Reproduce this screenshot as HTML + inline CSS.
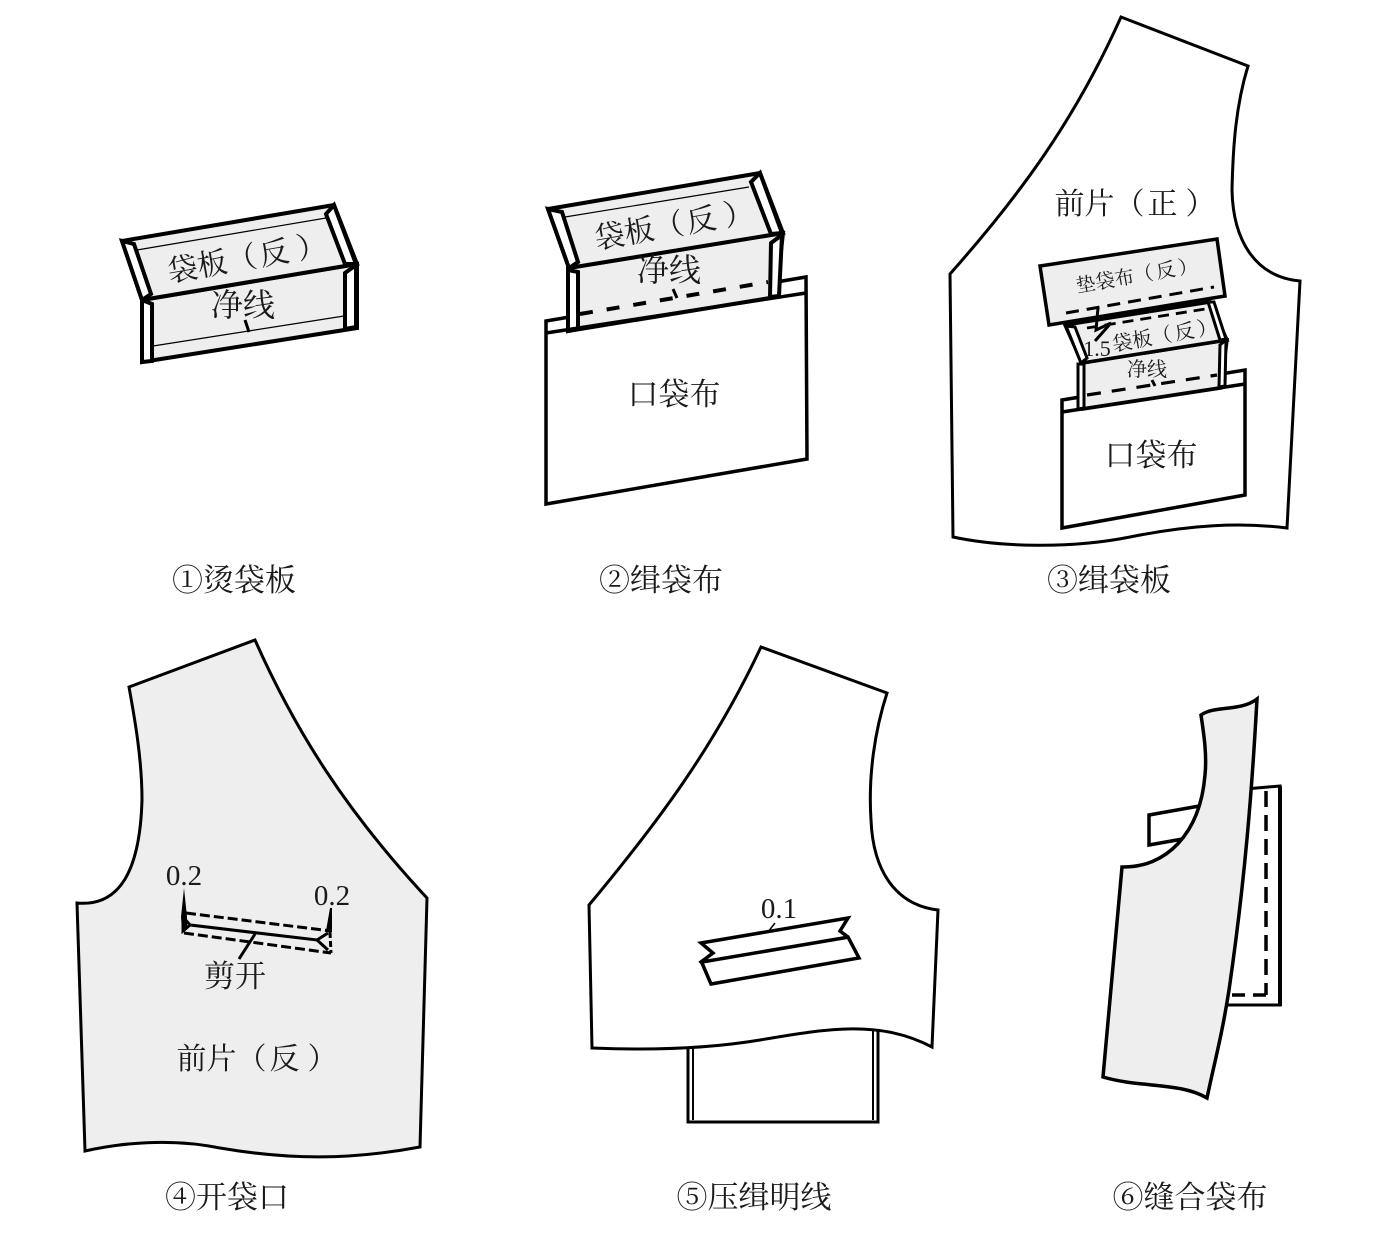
<!DOCTYPE html>
<html lang="zh">
<head>
<meta charset="utf-8">
<style>
html,body{margin:0;padding:0;background:#fff;width:1386px;height:1238px;overflow:hidden}
svg{display:block}
text{font-family:"Liberation Serif","Noto Serif CJK SC",serif;fill:#1a1a1a;text-anchor:middle}
polygon,path,line{stroke-linejoin:miter}
.g{fill:#eee;stroke:#000}
.w{fill:#fff;stroke:#000}
.n{fill:none;stroke:#000}
</style>
</head>
<body>
<svg width="1386" height="1238" viewBox="0 0 1386 1238" xmlns="http://www.w3.org/2000/svg">

<!-- Panel 1 -->
<polygon class="g" stroke-width="4" points="142,300 357,264 357,328 142,362"/>
<polygon class="g" stroke-width="4" points="122,241 334,205 357,264 142,300"/>
<polygon class="w" stroke-width="4" points="122,241 134,244 151,294 142,300"/>
<polygon class="w" stroke-width="4" points="334,205 326,214 345,264 356,264"/>
<polygon class="w" stroke-width="4" points="142,300 152,304 152,361 142,362"/>
<polygon class="w" stroke-width="4" points="345,273 356,265 356,327 345,329"/>
<line class="n" stroke-width="1.2" x1="137" y1="250" x2="326" y2="218"/>
<line class="n" stroke-width="1.2" x1="153" y1="346" x2="344" y2="316"/>
<line x1="245" y1="320" x2="249" y2="332" stroke="#000" stroke-width="3"/>
<text transform="translate(249,268) rotate(-10)" font-size="30">袋板（<tspan dx="3">反</tspan><tspan dx="8">）</tspan></text>
<text transform="translate(243,316)" font-size="32">净线</text>

<!-- Panel 2 -->
<polygon class="w" stroke-width="3.5" points="546,321 806,277 807,459 546,504"/>
<polygon class="g" stroke-width="4" points="568,268 783,233 776,297 568,331"/>
<polygon class="g" stroke-width="4" points="548,209 760,173 783,233 569,268"/>
<polygon class="w" stroke-width="4" points="548,209 562,212 578,262 569,268"/>
<polygon class="w" stroke-width="4" points="760,173 751,182 771,234 782,233"/>
<polygon class="w" stroke-width="4" points="568,270 578,272 578,329 568,331"/>
<polygon class="w" stroke-width="4" points="771,243 782,235 779,296 770,297"/>
<line class="n" stroke-width="1.2" x1="565" y1="217" x2="749" y2="187"/>
<line class="n" stroke-width="4" stroke-dasharray="13 14" x1="580" y1="314" x2="768" y2="282"/>
<line x1="673" y1="289" x2="677" y2="298" stroke="#000" stroke-width="3"/>
<line x1="546" y1="333" x2="806" y2="293" stroke="#000" stroke-width="3.5"/>
<text transform="translate(676,235) rotate(-10)" font-size="30">袋板（<tspan dx="3">反</tspan><tspan dx="8">）</tspan></text>
<text transform="translate(669,281)" font-size="32">净线</text>
<text x="674" y="405" font-size="31">口袋布</text>

<!-- Panel 3 -->
<path class="n" stroke-width="3" d="M1121,17 L1248,66 C1236,105 1233,145 1232,190 C1233,240 1255,277 1300,281 L1287,528 C1240,522 1190,525 1130,537 C1070,549 1000,547 953,537 L950,274 C1020,195 1075,120 1121,17 Z"/>
<polygon class="w" stroke-width="3.5" points="1062,400 1245,370 1245,495 1062,528"/>
<polygon class="g" stroke-width="3.5" points="1082,363 1227,340 1221,388 1083,409"/>
<polygon class="g" stroke-width="3.5" points="1065,325 1210,302 1227,340 1082,363"/>
<polygon class="w" stroke-width="3" points="1066,326 1075,327 1087,358 1081,363"/>
<polygon class="w" stroke-width="3" points="1208,302 1214,302 1226,339 1220,340"/>
<polygon class="w" stroke-width="3" points="1078,364 1084,364 1084,408 1078,409"/>
<polygon class="w" stroke-width="3" points="1220,345 1226,340 1225,386 1219,387"/>
<line class="n" stroke-width="2.8" stroke-dasharray="11 7" x1="1087" y1="328" x2="1205" y2="309"/>
<line class="n" stroke-width="3.2" stroke-dasharray="14 11" x1="1087" y1="395" x2="1217" y2="375"/>
<line x1="1152" y1="380" x2="1155" y2="386" stroke="#000" stroke-width="3"/>
<line x1="1062" y1="412" x2="1245" y2="384" stroke="#000" stroke-width="3.5"/>
<polygon class="g" stroke-width="3.5" points="1040,266 1217,239 1225,296 1049,325"/>
<line class="n" stroke-width="3" stroke-dasharray="13 8" x1="1066" y1="313" x2="1214" y2="287"/>
<path class="n" stroke-width="3" d="M1098,308 L1096,330 L1111,323 L1095,341"/>
<text x="1135" y="214" font-size="30">前片（<tspan dx="3">正</tspan><tspan dx="8">）</tspan></text>
<text transform="translate(1138,282) rotate(-10)" font-size="19.5">垫袋布（<tspan dx="3">反</tspan><tspan dx="3">）</tspan></text>
<text transform="translate(1166,342) rotate(-10)" font-size="20">袋板（<tspan dx="3">反</tspan><tspan dx="3">）</tspan></text>
<text x="1097" y="356" font-size="22">1.5</text>
<text transform="translate(1147,376)" font-size="20">净线</text>
<text x="1151" y="466" font-size="31">口袋布</text>

<!-- Panel 4 -->
<path class="g" stroke-width="3" d="M129,687 L255,640 C295,730 345,810 427,898 L420,1147 C350,1160 290,1160 220,1148 C170,1138 120,1143 85,1151 L77,903 C120,907 140,870 142,800 C142,760 135,720 129,687 Z"/>
<path d="M184,888 L181,917 L182,930 L187,930 L187,917 Z" fill="#000"/>
<path d="M331,908 L327,931 L331,931 Z" fill="#000" stroke="#000" stroke-width="2"/>
<line class="n" stroke-width="3" stroke-dasharray="10 4" x1="186" y1="913" x2="331" y2="931"/>
<line class="n" stroke-width="3" stroke-dasharray="10 4" x1="184" y1="933" x2="331" y2="953"/>
<path class="n" stroke-width="3" d="M183,915 L183,931 L190,925 L317,940 L328,933 M190,925 L183,917 M317,940 L328,950"/>
<line x1="330" y1="932" x2="331" y2="953" stroke="#000" stroke-width="3" stroke-dasharray="6 3"/>
<line x1="255" y1="934" x2="239" y2="959" stroke="#000" stroke-width="3"/>
<text x="184" y="885" font-size="29">0.2</text>
<text x="332" y="905" font-size="29">0.2</text>
<text x="235" y="987" font-size="31">剪开</text>
<text x="257" y="1069" font-size="30">前片（<tspan dx="3">反</tspan><tspan dx="8">）</tspan></text>

<!-- Panel 5 -->
<polygon class="w" stroke-width="3" points="688,1040 878,1020 878,1122 688,1122"/>
<line x1="693" y1="1040" x2="693" y2="1120" stroke="#000" stroke-width="2"/>
<line x1="873" y1="1025" x2="873" y2="1120" stroke="#000" stroke-width="2"/>
<path class="w" stroke-width="3" d="M761,647 L887,693 C875,730 868,775 871,820 C873,870 895,905 938,910 L932,1047 C880,1020 830,1028 760,1040 C700,1050 640,1050 592,1048 L589,905 C660,820 715,745 761,647 Z"/>
<polygon class="w" stroke-width="3.5" points="701,943 848,918 840,931 848,937 859,958 711,984 702,963 701,962 713,953"/>
<line x1="702" y1="962" x2="849" y2="937" stroke="#000" stroke-width="3.5"/>
<line x1="768" y1="932" x2="775" y2="923" stroke="#000" stroke-width="1.5"/>
<text x="779" y="918" font-size="29">0.1</text>

<!-- Panel 6 -->
<polygon class="w" stroke-width="3.5" points="1149,815 1205,805 1205,835 1149,845"/>
<polygon class="w" stroke-width="3" points="1245,789 1280,786 1280,1005 1225,1005"/>
<line x1="1280" y1="786" x2="1280" y2="1006" stroke="#000" stroke-width="4"/>
<line class="n" stroke-width="3.5" stroke-dasharray="16 8" x1="1266" y1="791" x2="1266" y2="995"/>
<line class="n" stroke-width="3.5" stroke-dasharray="13 8" x1="1266" y1="995" x2="1232" y2="995"/>
<path class="g" stroke-width="3.5" d="M1201,715 C1215,705 1240,712 1257,699 C1252,790 1245,880 1229,990 C1222,1035 1215,1060 1207,1098 C1180,1082 1140,1088 1103,1077 L1122,867 C1165,868 1200,835 1205,775 C1207,755 1204,735 1201,715 Z"/>

<!-- Captions -->
<text x="234" y="591" font-size="31">①烫袋板</text>
<text x="661" y="591" font-size="31">②缉袋布</text>
<text x="1109" y="591" font-size="31">③缉袋板</text>
<text x="227" y="1208" font-size="31">④开袋口</text>
<text x="754" y="1208" font-size="31">⑤压缉明线</text>
<text x="1190" y="1208" font-size="31">⑥缝合袋布</text>
</svg>
</body>
</html>
